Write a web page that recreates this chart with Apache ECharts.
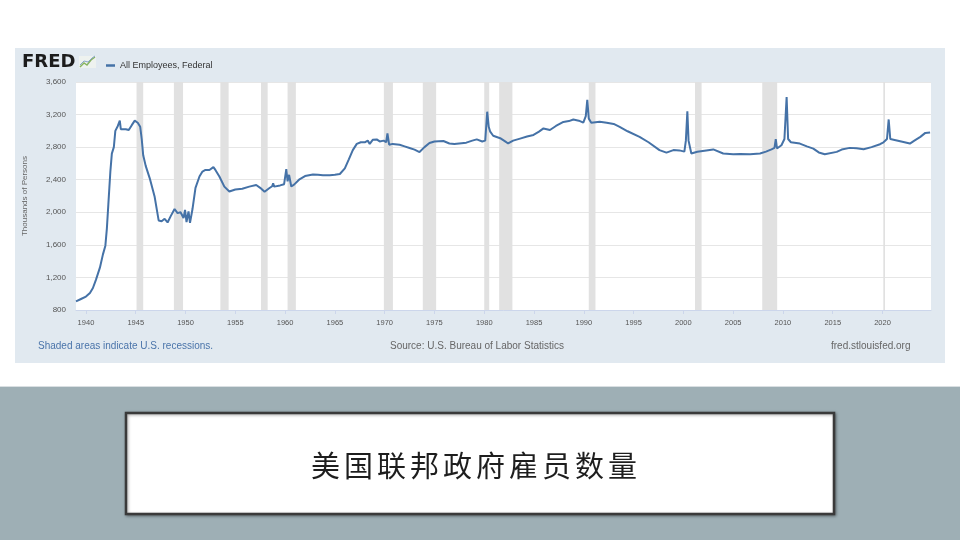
<!DOCTYPE html>
<html>
<head>
<meta charset="utf-8">
<script src="https://cdn.jsdelivr.net/npm/echarts@6/dist/echarts.min.js"></script>
<style>
html,body{margin:0;padding:0;background:#fff;}
#chart{width:960px;height:540px;}
</style>
</head>
<body>
<div id="chart"></div>
<script>
// ---- data (thousands of persons) ----
const years = [
 1939.0,1939.5,1940.0,1940.4,1940.7,1941.0,1941.4,1941.7,1941.95,1942.1,1942.25,1942.45,1942.6,1942.8,1942.95,
 1943.2,1943.4,1943.5,1943.7,1944.0,1944.3,1944.6,1944.9,1945.2,1945.45,1945.6,1945.75,1946.0,1946.4,1946.9,
 1947.3,1947.6,1947.9,1948.2,1948.5,1948.9,1949.2,1949.5,1949.8,1949.95,1950.1,1950.3,1950.45,1950.7,1951.0,
 1951.4,1951.7,1952.0,1952.4,1952.8,1953.0,1953.4,1953.9,1954.4,1955.0,1955.7,1956.4,1957.1,1957.5,1957.94,
 1958.4,1958.7,1958.8,1958.9,1959.5,1959.9,1960.12,1960.25,1960.4,1960.62,1960.9,1961.4,1962.0,1962.8,1963.3,
 1963.8,1964.5,1965.0,1965.5,1966.0,1966.4,1966.8,1967.2,1967.6,1968.0,1968.3,1968.5,1968.8,1969.2,1969.5,
 1969.9,1970.15,1970.28,1970.45,1970.8,1971.5,1972.0,1972.5,1973.0,1973.5,1974.0,1974.5,1975.0,1975.9,1976.5,
 1977.0,1978.2,1978.8,1979.25,1979.8,1980.1,1980.3,1980.45,1980.6,1980.9,1981.6,1982.1,1982.4,1982.9,1983.6,
 1984.3,1984.95,1985.5,1985.95,1986.6,1987.2,1987.95,1988.5,1988.95,1989.5,1989.95,1990.2,1990.35,1990.5,1990.75,
 1991.6,1992.3,1993.0,1993.6,1994.4,1995.6,1996.5,1997.6,1998.3,1999.0,1999.6,2000.1,2000.25,2000.4,2000.52,
 2000.8,2001.4,2002.3,2003.0,2004.0,2005.0,2005.7,2006.7,2007.7,2008.3,2008.85,2009.15,2009.28,2009.4,2009.85,
 2010.15,2010.37,2010.52,2010.8,2011.7,2012.4,2013.05,2013.6,2014.2,2015.4,2015.9,2016.7,2017.4,2018.1,2018.9,
 2019.75,2020.1,2020.45,2020.62,2020.78,2020.95,2022.1,2022.75,2023.2,2023.8,2024.3,2024.78
];
const federal = [
 905,935,965,1010,1070,1170,1320,1480,1590,1800,2100,2500,2720,2800,3000,
 3060,3125,3020,3040,3020,3010,3070,3125,3100,3050,2900,2700,2570,2420,2190,
 1900,1890,1920,1875,1950,2040,1990,2000,1930,2030,1880,2010,1870,2040,2300,
 2440,2500,2520,2520,2555,2520,2440,2315,2255,2280,2290,2315,2335,2300,2252,
 2295,2320,2355,2315,2330,2345,2530,2380,2460,2317,2340,2400,2445,2465,2460,
 2455,2455,2460,2470,2540,2650,2763,2840,2860,2860,2880,2840,2890,2895,2870,
 2880,2860,2970,2830,2840,2830,2810,2790,2770,2740,2800,2850,2870,2875,2845,
 2840,2855,2880,2895,2870,2880,3235,3050,2990,2940,2910,2870,2845,2880,2905,
 2930,2950,2990,3030,3010,3060,3110,3120,3140,3125,3100,3180,3380,3150,3100,
 3112,3100,3085,3050,2995,2927,2860,2764,2732,2764,2760,2745,2880,3240,2880,
 2722,2743,2760,2772,2722,2714,2716,2714,2722,2745,2772,2790,2898,2784,2823,
 2900,3415,2900,2860,2844,2810,2782,2735,2713,2742,2770,2791,2785,2775,2800,
 2836,2860,2900,3140,2900,2885,2864,2844,2880,2926,2975,2980
];
// NBER recessions (decimal years: start, end)
const recessionStart = [1945.08,1948.83,1953.5,1957.58,1960.25,1969.92,1973.83,1980.0,1981.5,1990.5,2001.17,2007.92,2020.08];
const recessionEnd   = [1945.75,1949.75,1954.33,1958.25,1961.08,1970.83,1975.17,1980.5,1982.83,1991.17,2001.83,2009.42,2020.25];
const xTickLabels = [1940,1945,1950,1955,1960,1965,1970,1975,1980,1985,1990,1995,2000,2005,2010,2015,2020];
const seriesName = 'All Employees, Federal';
const titleText = '美国联邦政府雇员数量';

const lineData = years.map((y, i) => [y, federal[i]]);
const bands = recessionStart.map((s, i) => [{xAxis: s}, {xAxis: recessionEnd[i]}]);

// title characters laid out with wide tracking
const titleChars = Array.from(titleText).map((ch, i) => ({
  type: 'text', z: 6, x: 311 + i * 33, y: 466,
  style: {text: ch, fill: '#1e1e1e', align: 'left', verticalAlign: 'middle', font: '29px "Noto Sans CJK SC", sans-serif'}
}));

const chart = echarts.init(document.getElementById('chart'), null, {renderer: 'canvas'});
const font = 'Liberation Sans, Arial, sans-serif';
chart.setOption({
  animation: false,
  backgroundColor: '#ffffff',
  textStyle: {fontFamily: font},
  graphic: [
    {type: 'rect', z: -20, silent: true, shape: {x: 0, y: 387, width: 960, height: 153}, style: {fill: '#9eafb5'}},
    {type: 'rect', z: -19, silent: true, shape: {x: 0, y: 386, width: 960, height: 1}, style: {fill: '#d9dfe2'}},
    {type: 'rect', z: -18, silent: true, shape: {x: 15, y: 48, width: 930, height: 315}, style: {fill: '#e1e9f0'}},
    // FRED logo
    {type: 'text', z: 5, left: 22, top: 53, style: {text: 'FRED', fill: '#1c1c1c', font: 'bold 18px "DejaVu Sans", sans-serif'}},
    {type: 'rect', z: 5, shape: {x: 79, y: 56, width: 17, height: 12}, style: {fill: '#eef2ef'}},
    {type: 'polyline', z: 6, shape: {points: [[80,67],[84,63],[87,65],[91,60],[95,57]]}, style: {stroke: '#86b35f', lineWidth: 1.4, fill: null}},
    {type: 'polyline', z: 6, shape: {points: [[80,65],[84,61],[88,62],[92,58],[95,56]]}, style: {stroke: '#88a6c8', lineWidth: 1, fill: null}},
    // footer
    {type: 'text', z: 5, left: 38, top: 341, style: {text: 'Shaded areas indicate U.S. recessions.', fill: '#4a74aa', font: '10px Liberation Sans, Arial, sans-serif'}},
    {type: 'text', z: 5, left: 390, top: 341, style: {text: 'Source: U.S. Bureau of Labor Statistics', fill: '#666666', font: '10px Liberation Sans, Arial, sans-serif'}},
    {type: 'text', z: 5, left: 831, top: 341, style: {text: 'fred.stlouisfed.org', fill: '#666666', font: '10px Liberation Sans, Arial, sans-serif'}},
    // title box
    {type: 'rect', z: 5, shape: {x: 126, y: 413, width: 708, height: 101},
      style: {fill: '#ffffff', stroke: '#3a3a3a', lineWidth: 2.5, shadowBlur: 3, shadowColor: 'rgba(0,0,0,0.35)', shadowOffsetX: 1, shadowOffsetY: 1}}
  ].concat(titleChars),
  legend: {
    left: 101, top: 56, itemWidth: 9, itemHeight: 2.5, itemGap: 5, icon: 'rect',
    textStyle: {fontSize: 9, color: '#333333', fontFamily: font},
    data: [seriesName]
  },
  grid: {left: 76, right: 29, top: 82, bottom: 230, show: true, backgroundColor: '#ffffff', borderWidth: 0},
  xAxis: {
    type: 'value', min: 1939, max: 2024.87,
    axisLine: {show: true, lineStyle: {color: '#ccd6eb', width: 1}},
    axisTick: {show: true, length: 4, lineStyle: {color: '#ccd6eb'}, customValues: xTickLabels},
    axisLabel: {customValues: xTickLabels, formatter: v => String(v), fontSize: 7.5, color: '#555555', margin: 9, fontFamily: font},
    splitLine: {show: false}
  },
  yAxis: {
    type: 'value', min: 800, max: 3600, interval: 400,
    name: 'Thousands of Persons', nameLocation: 'middle', nameGap: 47, nameRotate: 90,
    nameTextStyle: {fontSize: 8, color: '#666666', fontFamily: font},
    axisLine: {show: false}, axisTick: {show: false},
    axisLabel: {formatter: v => v.toLocaleString('en-US'), fontSize: 8, color: '#555555', margin: 10, padding: [0,0,7,0], fontFamily: font},
    splitLine: {show: true, lineStyle: {color: '#e6e6e6', width: 1}}
  },
  series: [{
    name: seriesName, type: 'line', data: lineData, showSymbol: false, symbol: 'none',
    lineStyle: {color: '#4572a7', width: 2}, itemStyle: {color: '#4572a7'},
    z: 3,
    markArea: {silent: true, itemStyle: {color: '#e1e1e1'}, data: bands}
  }]
});
</script>
</body>
</html>
